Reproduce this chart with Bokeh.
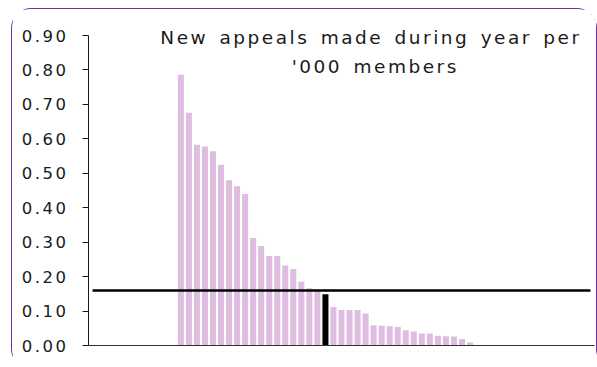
from bokeh.plotting import figure
from bokeh.models import Range1d, FixedTicker, NumeralTickFormatter, ColumnDataSource, Label
from bokeh.embed import file_html
from bokeh.resources import INLINE

# ---- data ----
rates = [0.786, 0.676, 0.583, 0.578, 0.564, 0.525, 0.480, 0.462, 0.440,
         0.312, 0.289, 0.260, 0.260, 0.232, 0.222, 0.185, 0.166, 0.158,
         0.149, 0.112, 0.103, 0.103, 0.103, 0.093, 0.059, 0.057, 0.056,
         0.054, 0.044, 0.041, 0.035, 0.035, 0.028, 0.027, 0.026, 0.019, 0.009]
leading_blank = 11          # categories with no value before the ranked funds
trailing_blank = 15         # categories with no value after them
highlight_rank = 19         # 1-based rank of the highlighted fund
average_rate = 0.16
y_ticks = [0.0, 0.1, 0.2, 0.3, 0.4, 0.5, 0.6, 0.7, 0.8, 0.9]
title_lines = ["New appeals made during year per", "'000 members"]

BAR = "#ddbde0"
HIGHLIGHT = "#000000"

n_cat = leading_blank + len(rates) + trailing_blank
xs = [leading_blank + i for i in range(len(rates))]
colors = [HIGHLIGHT if i + 1 == highlight_rank else BAR for i in range(len(rates))]
src = ColumnDataSource(dict(x=xs, top=rates, color=colors))

# frame is taller than the axis so the overlaid title is not clipped
H, TOP, BOTTOM = 361, 5, 25
axis_px = 310
y_end = y_ticks[-1] * (H - TOP - BOTTOM) / axis_px

p = figure(width=586, height=H,
           x_range=Range1d(-0.5, n_cat - 0.5), y_range=Range1d(0, y_end),
           output_backend="svg", toolbar_location=None,
           min_border_left=76, min_border_right=4,
           min_border_top=TOP, min_border_bottom=BOTTOM)
p.margin = (8, 0, 0, 11)
p.styles = {"border": "1.5px solid #7030a0", "border-radius": "20px",
            "letter-spacing": "2.5px", "word-spacing": "3px"}

p.background_fill_color = "white"
p.border_fill_color = "white"
p.outline_line_color = None
p.xgrid.visible = False
p.ygrid.visible = False

p.vbar(x="x", top="top", width=0.75, fill_color="color", line_color=None, source=src)
p.line(x=list(range(n_cat)), y=[average_rate] * n_cat, line_color="black", line_width=2.5)

for tx, ty, line in zip([8.44, 24.8], [0.8934, 0.811], title_lines):
    p.add_layout(Label(x=tx, y=ty, text=line, text_font="DejaVu Sans",
                       text_font_size="18.5px", text_color="#1a1a1a",
                       text_align="left", text_baseline="alphabetic"))

ya = p.yaxis[0]
ya.ticker = FixedTicker(ticks=y_ticks)
ya.bounds = (y_ticks[0], y_ticks[-1])
ya.formatter = NumeralTickFormatter(format="0.00")
ya.major_tick_out = 6
ya.major_tick_in = 0
ya.minor_tick_line_color = None
ya.axis_line_color = "#1a1a1a"
ya.major_tick_line_color = "#1a1a1a"
ya.major_label_text_font = "DejaVu Sans"
ya.major_label_text_font_size = "16.5px"
ya.major_label_text_color = "#1a1a1a"
ya.major_label_standoff = 24

xa = p.xaxis[0]
xa.ticker = FixedTicker(ticks=[])
xa.major_label_text_font_size = "0px"
xa.major_tick_out = 0
xa.major_tick_in = 0
xa.minor_tick_line_color = None
xa.axis_line_color = "#333333"

open("out.html", "w").write(file_html(p, INLINE))
